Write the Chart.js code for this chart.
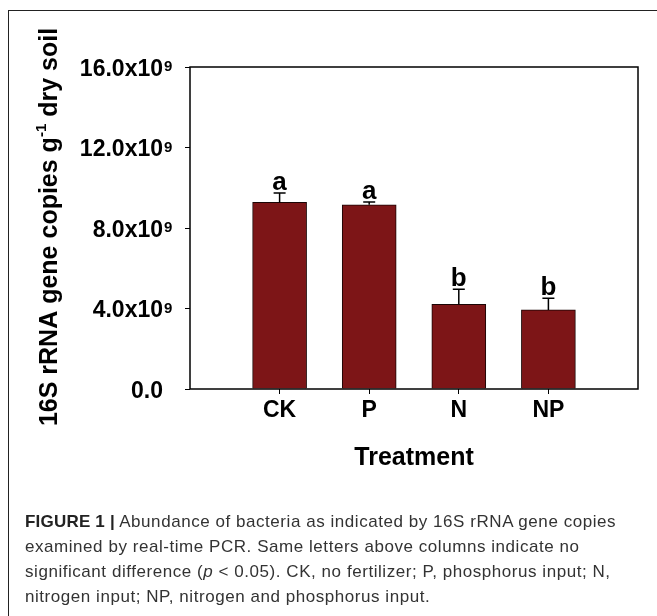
<!DOCTYPE html>
<html>
<head>
<meta charset="utf-8">
<script src="https://cdn.jsdelivr.net/npm/chart.js@4.4.0/dist/chart.umd.min.js"></script>
<style>
  html, body { margin: 0; padding: 0; background: #fff; }
  #wrap { position: relative; width: 657px; height: 616px; overflow: hidden; }
  #frame { position: absolute; left: 8px; top: 10px; width: 700px; height: 700px;
           border-left: 1px solid #222; border-top: 1px solid #222; }
  #chart { position: absolute; left: 0; top: 0; }
  #caption { position: absolute; left: 25px; top: 509px; width: 630px;
             font-family: "Liberation Sans", Arial, sans-serif; font-size: 17px;
             letter-spacing: 0.55px; line-height: 25px; color: #333; white-space: nowrap; }
  #caption b { color: #222; letter-spacing: 0.2px; }
</style>
</head>
<body>
<div id="wrap">
  <div id="frame"></div>
  <canvas id="chart" width="657" height="616"></canvas>
  <div id="caption">
    <b>FIGURE 1 |</b> Abundance of bacteria as indicated by 16S rRNA gene copies<br>
    examined by real-time PCR. Same letters above columns indicate no<br>
    significant difference (<i>p</i> &lt; 0.05). CK, no fertilizer; P, phosphorus input; N,<br>
    nitrogen input; NP, nitrogen and phosphorus input.
  </div>
</div>
<script>
// data
const treatments = ['CK', 'P', 'N', 'NP'];
const copies = [9.27e9, 9.15e9, 4.21e9, 3.93e9];
const copiesErr = [0.47e9, 0.14e9, 0.75e9, 0.58e9];
const letters = ['a', 'a', 'b', 'b'];
const yTicks = [0, 4e9, 8e9, 12e9, 16e9];
const yTickText = ['0.0', '4.0x10', '8.0x10', '12.0x10', '16.0x10'];
const yTickSup = ['', '9', '9', '9', '9'];

// empty slot on each side, like the original plot
const slotLabels = [''].concat(treatments, ['']);
const slotValues = [null].concat(copies, [null]);

const FONT = '"Liberation Sans", Arial, sans-serif';

const extras = {
  id: 'extras',
  afterDatasetsDraw(chart) {
    const ctx = chart.ctx;
    const x = chart.scales.x, y = chart.scales.y;
    const area = chart.chartArea;
    ctx.save();

    // error bars (upper only) + letters
    ctx.strokeStyle = '#000';
    ctx.lineWidth = 1.5;
    ctx.fillStyle = '#000';
    ctx.textAlign = 'center';
    ctx.font = 'bold 26px ' + FONT;
    copies.forEach((v, i) => {
      const px = x.getPixelForValue(i + 1);
      const yb = y.getPixelForValue(v);
      const yt = y.getPixelForValue(v + copiesErr[i]);
      ctx.beginPath();
      ctx.moveTo(px, yb);
      ctx.lineTo(px, yt);
      ctx.moveTo(px - 6, yt);
      ctx.lineTo(px + 6, yt);
      ctx.stroke();
      ctx.fillText(letters[i], px, yt - 3);
    });

    // plot box
    ctx.lineWidth = 1.5;
    ctx.strokeRect(area.left, area.top, area.right - area.left, area.bottom - area.top);

    // y tick labels with superscript
    yTicks.forEach((t, i) => {
      const py = y.getPixelForValue(t);
      ctx.textAlign = 'right';
      ctx.font = 'bold 23px ' + FONT;
      ctx.fillText(yTickText[i], area.left - 27, py + 8.5);
      if (yTickSup[i]) {
        ctx.textAlign = 'left';
        ctx.font = 'bold 15px ' + FONT;
        ctx.fillText(yTickSup[i], area.left - 26, py + 4);
      }
    });

    // x tick labels
    ctx.textAlign = 'center';
    ctx.font = 'bold 23px ' + FONT;
    treatments.forEach((t, i) => {
      ctx.fillText(t, x.getPixelForValue(i + 1), area.bottom + 28);
    });

    // x title
    ctx.font = 'bold 25px ' + FONT;
    ctx.fillText('Treatment', (area.left + area.right) / 2, area.bottom + 76);

    // y title, rotated, with superscript -1
    const p1 = '16S rRNA gene copies g', sup = '-1', p3 = ' dry soil';
    ctx.font = 'bold 25px ' + FONT;
    const w1 = ctx.measureText(p1).width, w3 = ctx.measureText(p3).width;
    ctx.font = 'bold 15px ' + FONT;
    const w2 = ctx.measureText(sup).width;
    const total = w1 + w2 + w3;
    ctx.translate(57, (area.top + area.bottom) / 2 - 1);
    ctx.rotate(-Math.PI / 2);
    ctx.textAlign = 'left';
    let sx = -total / 2;
    ctx.font = 'bold 25px ' + FONT;
    ctx.fillText(p1, sx, 0);
    sx += w1;
    ctx.font = 'bold 15px ' + FONT;
    ctx.fillText(sup, sx, -11);
    sx += w2;
    ctx.font = 'bold 25px ' + FONT;
    ctx.fillText(p3, sx, 0);

    ctx.restore();
  }
};

new Chart(document.getElementById('chart'), {
  type: 'bar',
  data: {
    labels: slotLabels,
    datasets: [{
      data: slotValues,
      backgroundColor: '#7D1517',
      borderColor: '#1a0505',
      borderWidth: 1,
      barThickness: 54
    }]
  },
  options: {
    responsive: false,
    animation: false,
    devicePixelRatio: 1,
    layout: { padding: { left: 0, top: 67, right: 19, bottom: 0 } },
    plugins: { legend: { display: false }, tooltip: { enabled: false } },
    scales: {
      x: {
        offset: false,
        grid: {
          offset: false,
          drawOnChartArea: false,
          drawTicks: true,
          tickLength: 5,
          tickColor: c => (c.index === 0 || c.index === slotLabels.length - 1) ? 'rgba(0,0,0,0)' : '#000'
        },
        border: { display: false },
        ticks: { display: false },
        afterFit(s) { s.height = 227; }
      },
      y: {
        min: 0,
        max: 16e9,
        grid: { drawOnChartArea: false, drawTicks: true, tickLength: 5, tickColor: '#000' },
        border: { display: false },
        ticks: { display: false, stepSize: 4e9 },
        afterFit(s) { s.width = 190; }
      }
    }
  },
  plugins: [extras]
});
</script>
</body>
</html>
